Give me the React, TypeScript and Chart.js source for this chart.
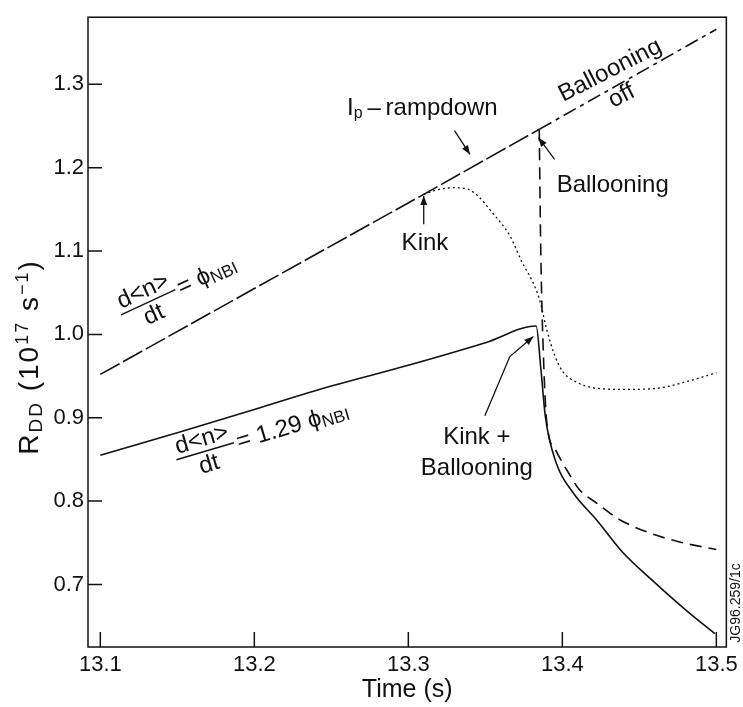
import React, { useEffect, useRef } from "react";
import { Chart, registerables } from "chart.js";

Chart.register(...registerables);

const FONT = '"Liberation Sans", Arial, Helvetica, sans-serif';

// axis ticks
const xTicks = [13.1, 13.2, 13.3, 13.4, 13.5];
const yTicks = [0.7, 0.8, 0.9, 1.0, 1.1, 1.2, 1.3];

// common rising branch (d<n>/dt = phi_NBI)
const commonX = [13.1, 13.2, 13.31, 13.385];
const commonY = [0.952, 1.055, 1.168, 1.246];

// ballooning off (dash-dot)
const offX = [13.385, 13.5];
const offY = [1.246, 1.366];

// kink only (dotted)
const kinkX = [13.31, 13.32, 13.33, 13.342, 13.355, 13.366, 13.374, 13.381, 13.385, 13.39, 13.395, 13.4, 13.41, 13.42, 13.44, 13.46, 13.48, 13.5];
const kinkY = [1.168, 1.174, 1.176, 1.171, 1.145, 1.118, 1.086, 1.062, 1.043, 1.005, 0.975, 0.956, 0.942, 0.936, 0.934, 0.935, 0.943, 0.954];

// ballooning (dashed)
const ballX = [13.385, 13.386, 13.388, 13.39, 13.396, 13.403, 13.411, 13.422, 13.437, 13.455, 13.476, 13.5];
const ballY = [1.246, 1.1, 0.96, 0.893, 0.86, 0.837, 0.814, 0.798, 0.778, 0.763, 0.751, 0.742];

// kink + ballooning (solid, d<n>/dt = 1.29 phi_NBI)
const kbX = [13.1, 13.15, 13.2, 13.25, 13.3, 13.35, 13.383, 13.386, 13.389, 13.396, 13.407, 13.422, 13.439, 13.459, 13.481, 13.499];
const kbY = [0.855, 0.882, 0.91, 0.938, 0.963, 0.99, 1.01, 0.96, 0.901, 0.846, 0.81, 0.778, 0.739, 0.704, 0.668, 0.641];

const pts = (xs: number[], ys: number[]) => xs.map((x, i) => ({ x, y: ys[i] }));

type Part = { t: string; size: number; dy: number };

function drawRich(ctx: CanvasRenderingContext2D, parts: Part[], x: number, y: number, align: "left" | "center" | "right") {
  let total = 0;
  const widths = parts.map((p) => {
    ctx.font = `${p.size}px ${FONT}`;
    const w = ctx.measureText(p.t).width;
    total += w;
    return w;
  });
  let cx = align === "center" ? x - total / 2 : align === "right" ? x - total : x;
  ctx.textAlign = "left";
  ctx.textBaseline = "middle";
  parts.forEach((p, i) => {
    ctx.font = `${p.size}px ${FONT}`;
    ctx.fillText(p.t, cx, y + p.dy);
    cx += widths[i];
  });
}

function arrow(ctx: CanvasRenderingContext2D, path: [number, number][]) {
  ctx.beginPath();
  ctx.moveTo(path[0][0], path[0][1]);
  for (let i = 1; i < path.length; i++) ctx.lineTo(path[i][0], path[i][1]);
  ctx.stroke();
  const [x1, y1] = path[path.length - 2];
  const [x2, y2] = path[path.length - 1];
  const a = Math.atan2(y2 - y1, x2 - x1);
  const L = 9, W = 3.5;
  ctx.beginPath();
  ctx.moveTo(x2, y2);
  ctx.lineTo(x2 - L * Math.cos(a) + W * Math.sin(a), y2 - L * Math.sin(a) - W * Math.cos(a));
  ctx.lineTo(x2 - L * Math.cos(a) - W * Math.sin(a), y2 - L * Math.sin(a) + W * Math.cos(a));
  ctx.closePath();
  ctx.fill();
}

const annotPlugin = {
  id: "annot",
  afterDraw(chart: any) {
    const { ctx, chartArea: ca, scales } = chart;
    const X = (v: number) => scales.x.getPixelForValue(v);
    const Y = (v: number) => scales.y.getPixelForValue(v);
    ctx.save();
    ctx.strokeStyle = "#111";
    ctx.fillStyle = "#111";
    ctx.lineWidth = 1.5;
    ctx.setLineDash([]);
    // frame
    ctx.strokeRect(ca.left, ca.top, ca.right - ca.left, ca.bottom - ca.top);
    // inward ticks
    ctx.beginPath();
    xTicks.forEach((v) => {
      ctx.moveTo(X(v), ca.bottom);
      ctx.lineTo(X(v), ca.bottom - 15);
    });
    yTicks.forEach((v) => {
      ctx.moveTo(ca.left, Y(v));
      ctx.lineTo(ca.left + 14, Y(v));
    });
    ctx.stroke();

    const big = 24, small = 16;

    // y axis title
    ctx.save();
    ctx.translate(30, 357);
    ctx.rotate(-Math.PI / 2);
    (ctx as any).letterSpacing = "2px";
    drawRich(ctx, [
      { t: "R", size: 28, dy: 0 },
      { t: "DD", size: 19, dy: 7 },
      { t: " (10", size: 28, dy: 0 },
      { t: "17", size: 18, dy: -7 },
      { t: " s", size: 28, dy: 0 },
      { t: "−1", size: 18, dy: -7 },
      { t: ")", size: 28, dy: 0 },
    ], 0, 0, "center");
    (ctx as any).letterSpacing = "0px";
    ctx.restore();

    // Kink
    drawRich(ctx, [{ t: "Kink", size: big, dy: 0 }], X(13.3108), Y(1.1095), "center");
    ctx.lineWidth = 1.3;
    arrow(ctx, [[X(13.31), Y(1.132)], [X(13.31), Y(1.166)]]);

    // Ip-rampdown
    drawRich(ctx, [
      { t: "I", size: big, dy: 0 },
      { t: "p", size: small, dy: 6 },
      { t: "\u2009–\u2009rampdown", size: big, dy: 0 },
    ], X(13.358), Y(1.2716), "right");
    arrow(ctx, [[X(13.330), Y(1.2444)], [X(13.340), Y(1.216)]]);

    // Ballooning (horizontal)
    drawRich(ctx, [{ t: "Ballooning", size: big, dy: 0 }], X(13.4327), Y(1.179), "center");
    arrow(ctx, [[X(13.395), Y(1.21)], [X(13.3845), Y(1.236)]]);

    // Ballooning / off (rotated)
    ctx.save();
    ctx.translate(X(13.431), Y(1.3165));
    ctx.rotate((-27 * Math.PI) / 180);
    drawRich(ctx, [{ t: "Ballooning", size: big, dy: 0 }], 0, 0, "center");
    ctx.restore();
    ctx.save();
    ctx.translate(X(13.4385), Y(1.2858));
    ctx.rotate((-27 * Math.PI) / 180);
    drawRich(ctx, [{ t: "off", size: big, dy: 0 }], 0, 0, "center");
    ctx.restore();

    // Kink + Ballooning
    drawRich(ctx, [{ t: "Kink +", size: big, dy: 0 }], X(13.3445), Y(0.8763), "center");
    drawRich(ctx, [{ t: "Ballooning", size: big, dy: 0 }], X(13.3445), Y(0.8396), "center");
    arrow(ctx, [[X(13.3497), Y(0.9024)], [X(13.3659), Y(0.9734)], [X(13.3812), Y(0.9975)]]);

    // formula helper
    const formula = (cx: number, cy: number, angDeg: number, rhs: Part[]) => {
      ctx.save();
      ctx.translate(cx, cy);
      ctx.rotate((-angDeg * Math.PI) / 180);
      ctx.lineWidth = 1.4;
      ctx.beginPath();
      ctx.moveTo(-30, 0);
      ctx.lineTo(30, 0);
      ctx.stroke();
      drawRich(ctx, [{ t: "d<n>", size: big, dy: 0 }], 0, -12, "center");
      drawRich(ctx, [{ t: "dt", size: big, dy: 0 }], 0, 14, "center");
      drawRich(ctx, rhs, 33, 1, "left");
      ctx.restore();
    };
    formula(X(13.1311), Y(1.0385), 25, [
      { t: "= ϕ", size: big, dy: 0 },
      { t: "NBI", size: 17, dy: 5 },
    ]);
    formula(X(13.1681), Y(0.8598), 16.5, [
      { t: "= 1.29 ϕ", size: big, dy: 0 },
      { t: "NBI", size: 17, dy: 5 },
    ]);

    // figure code
    ctx.save();
    ctx.translate(ca.right + 10, 603);
    ctx.rotate(-Math.PI / 2);
    drawRich(ctx, [{ t: "JG96.259/1c", size: 14, dy: 0 }], 0, 0, "center");
    ctx.restore();

    ctx.restore();
  },
};

export default function App() {
  const ref = useRef<HTMLCanvasElement | null>(null);
  useEffect(() => {
    if (!ref.current) return;
    const line = { borderColor: "#111", borderWidth: 1.6, pointRadius: 0, fill: false };
    const chart = new Chart(ref.current, {
      type: "line",
      data: {
        datasets: [
          { ...line, label: "common", data: pts(commonX, commonY), borderDash: [22, 4], tension: 0 },
          { ...line, label: "Ballooning off", data: pts(offX, offY), borderDash: [14, 5, 4, 5], tension: 0 },
          { ...line, label: "Kink", data: pts(kinkX, kinkY), borderDash: [2, 3], borderWidth: 1.3, cubicInterpolationMode: "monotone" },
          { ...line, label: "Ballooning", data: pts(ballX, ballY), borderDash: [12, 7], cubicInterpolationMode: "monotone" },
          { ...line, label: "Kink + Ballooning", data: pts(kbX, kbY), cubicInterpolationMode: "monotone" },
        ] as any,
      },
      options: {
        animation: false,
        responsive: false,
        layout: { padding: { left: 0, top: 8, right: 16, bottom: 0 } },
        plugins: { legend: { display: false }, tooltip: { enabled: false } },
        scales: {
          x: {
            type: "linear",
            min: 13.092,
            max: 13.5065,
            grid: { display: false, drawTicks: false },
            border: { display: false },
            afterBuildTicks: (s: any) => {
              s.ticks = xTicks.map((value) => ({ value }));
            },
            afterFit: (s: any) => {
              s.height = 60;
            },
            ticks: {
              padding: 5,
              color: "#111",
              font: { family: FONT, size: 22 },
              callback: (v: any) => Number(v).toFixed(1),
            },
            title: {
              display: true,
              text: "Time (s)",
              color: "#111",
              font: { family: FONT, size: 25 },
              padding: { top: 0, bottom: 2 },
            },
          },
          y: {
            type: "linear",
            min: 0.625,
            max: 1.3805,
            grid: { display: false, drawTicks: false },
            border: { display: false },
            afterBuildTicks: (s: any) => {
              s.ticks = yTicks.map((value) => ({ value }));
            },
            afterFit: (s: any) => {
              s.width = 88;
            },
            ticks: {
              padding: 4,
              color: "#111",
              font: { family: FONT, size: 22 },
              callback: (v: any) => Number(v).toFixed(1),
            },
          },
        },
      },
      plugins: [annotPlugin],
    });
    return () => chart.destroy();
  }, []);
  return (
    <div style={{ position: "absolute", left: 0, top: 0, width: 743, height: 707, background: "#fff" }}>
      <canvas ref={ref} width={743} height={707} />
    </div>
  );
}
